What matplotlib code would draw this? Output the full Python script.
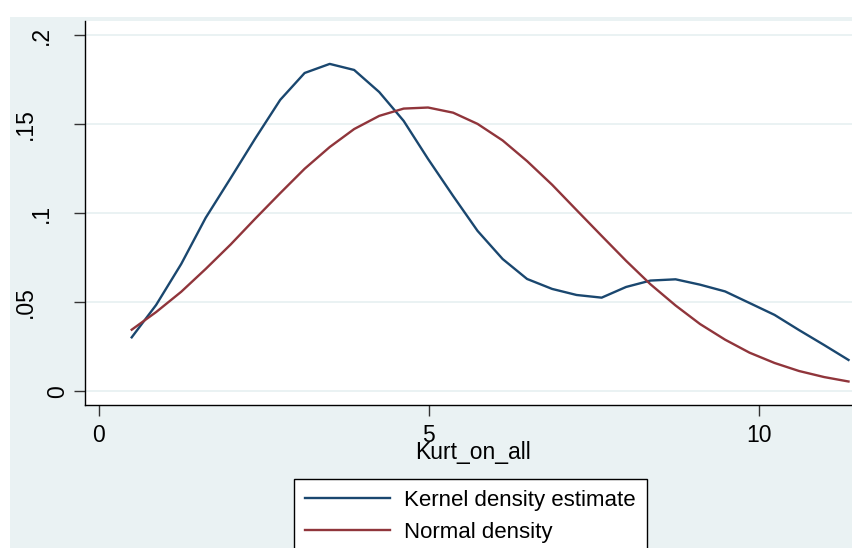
import matplotlib.pyplot as plt
from matplotlib.patches import Rectangle

plt.rcParams['font.family'] = ['Liberation Sans', 'DejaVu Sans']

# evaluation points of the density estimate
kurt_x = [0.50, 0.87, 1.25, 1.62, 2.00, 2.37, 2.75, 3.12, 3.50, 3.87,
          4.25, 4.62, 4.99, 5.37, 5.74, 6.12, 6.49, 6.87, 7.24, 7.62,
          7.99, 8.36, 8.74, 9.11, 9.49, 9.86, 10.24, 10.61, 10.99, 11.36]

kernel_density = [0.0303, 0.0485, 0.0715, 0.0974, 0.1198, 0.1419, 0.1637, 0.1788, 0.1839, 0.1805,
                  0.1681, 0.1519, 0.1305, 0.1097, 0.0901, 0.0743, 0.0631, 0.0575, 0.0541, 0.0526,
                  0.0586, 0.0622, 0.0629, 0.0599, 0.0561, 0.0496, 0.0429, 0.0344, 0.0260, 0.0176]

normal_density = [0.0346, 0.0445, 0.0559, 0.0687, 0.0825, 0.0969, 0.1113, 0.1250, 0.1372, 0.1473,
                  0.1547, 0.1588, 0.1594, 0.1565, 0.1502, 0.1409, 0.1293, 0.1160, 0.1018, 0.0873,
                  0.0733, 0.0601, 0.0482, 0.0378, 0.0290, 0.0217, 0.0159, 0.0114, 0.0080, 0.0055]

x_ticks = [0, 5, 10]
y_ticks = [0, 0.05, 0.1, 0.15, 0.2]
y_ticklabels = ['0', '.05', '.1', '.15', '.2']

W, H = 852, 548
bg = '#EAF2F3'
navy = '#1A476F'
maroon = '#90353B'

fig = plt.figure(figsize=(W / 100, H / 100), dpi=100, facecolor='white')
fig.patches.append(Rectangle((10 / W, 0), 1 - 10 / W, 1 - 17 / H,
                             transform=fig.transFigure, facecolor=bg,
                             edgecolor='none', zorder=-5))

ax = fig.add_axes([85 / W, (H - 405) / H, 1 - 85 / W, (405 - 21) / H])
ax.set_facecolor('white')

ax.plot(kurt_x, kernel_density, color=navy, lw=1.7, label='Kernel density estimate', zorder=3)
ax.plot(kurt_x, normal_density, color=maroon, lw=1.7, label='Normal density', zorder=3)

ax.set_xlim(-0.2076, 11.413)
ax.set_ylim(-0.0077, 0.2080)

for yv in y_ticks:
    ax.axhline(yv, color=bg, lw=1.4, zorder=1)

ax.set_xticks(x_ticks)
ax.set_yticks(y_ticks)
ax.tick_params(axis='both', labelsize=16.5, length=8, width=1, color='#333333')
ax.tick_params(axis='x', pad=6)
ax.tick_params(axis='y', labelleft=False)

# vertical y labels, staggered away from the axis
label_offsets = [-27, -60, -44, -60, -44]
for yv, lab, off in zip(y_ticks, y_ticklabels, label_offsets):
    ax.annotate(lab, xy=(0, yv), xycoords=ax.get_yaxis_transform(),
                xytext=(off, 0), textcoords='offset pixels',
                rotation=90, ha='center', va='center', fontsize=16.5)

for side in ['top', 'right']:
    ax.spines[side].set_visible(False)
for side in ['left', 'bottom']:
    ax.spines[side].set_linewidth(1.0)
    ax.spines[side].set_color('black')

fig.text(473 / W, 1 - 452 / H, 'Kurt_on_all', fontsize=16.5, ha='center', va='center')

leg = fig.legend(loc='upper left', bbox_to_anchor=(294 / W, 1 - 479 / H),
                 fontsize=16, frameon=True, fancybox=False, framealpha=1,
                 edgecolor='black', facecolor='white', handlelength=3.8,
                 handletextpad=0.65, borderpad=0.5, labelspacing=0.5,
                 borderaxespad=0)
leg.get_frame().set_linewidth(1.0)

fig.savefig('out.png', dpi=100, facecolor=fig.get_facecolor())
